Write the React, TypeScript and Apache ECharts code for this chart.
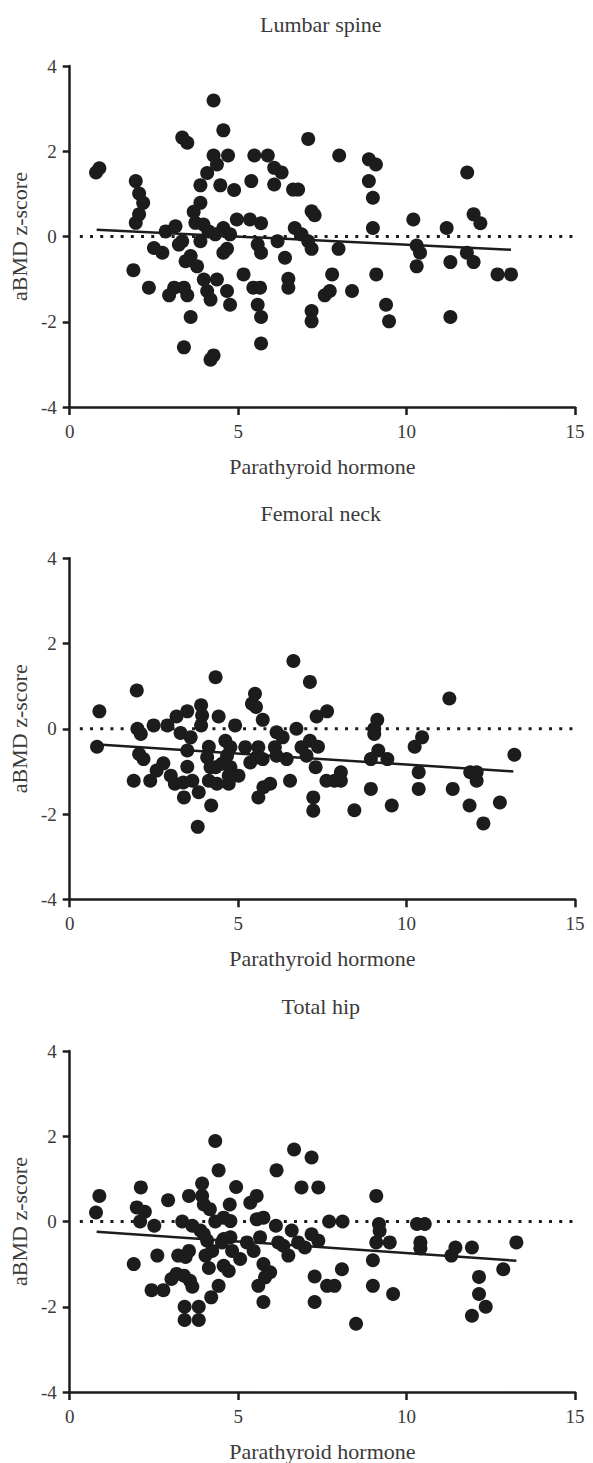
import React, { useEffect, useRef } from "react";
import * as echarts from "echarts";

const panelTitles = ["Lumbar spine", "Femoral neck", "Total hip"];
const xAxisTitle = "Parathyroid hormone";
const yAxisTitle = "aBMD z-score";
const xTicks = { min: 0, max: 15, interval: 5 };
const yTicks = { min: -4, max: 4, interval: 2 };

const lumbarPoints: number[][] = [
  [0.78, 1.5], [0.88, 1.6], [1.96, 1.3], [2.06, 1.01], [2.18, 0.79], [2.06, 0.52], [1.96, 0.32],
  [3.34, 2.32], [3.49, 2.2], [4.27, 3.19], [4.56, 2.49], [4.27, 1.9], [4.37, 1.69], [4.7, 1.9],
  [4.08, 1.49], [3.88, 1.2], [4.47, 1.2], [4.88, 1.09], [3.88, 0.79], [3.68, 0.58], [5.39, 1.3],
  [5.48, 1.9], [5.88, 1.9], [6.07, 1.61], [6.29, 1.5], [6.07, 1.22], [6.63, 1.1], [6.78, 1.1],
  [4.96, 0.4], [5.35, 0.4], [5.68, 0.31], [3.73, 0.32], [3.97, 0.28], [3.14, 0.24], [2.85, 0.12],
  [4.56, 0.2], [6.68, 0.2], [4.12, 0.12],
  [7.08, 2.29], [8.0, 1.9], [8.88, 1.81], [9.09, 1.69], [8.88, 1.3], [9.0, 0.91], [9.0, 0.2],
  [7.18, 0.59], [7.27, 0.5], [10.2, 0.4], [11.19, 0.2], [11.8, 1.5], [11.99, 0.52], [12.19, 0.31],
  [6.88, 0.05], [7.08, -0.11], [7.18, -0.29], [6.39, -0.5], [6.49, -0.99], [6.49, -1.2], [7.98, -0.29],
  [7.79, -0.89], [7.57, -1.38], [7.72, -1.28], [8.38, -1.28], [7.18, -1.75], [7.18, -1.99], [9.1, -0.89],
  [9.39, -1.6], [9.48, -1.99], [10.3, -0.21], [10.4, -0.38], [10.3, -0.7], [11.3, -0.6], [11.3, -1.89],
  [11.79, -0.38], [11.99, -0.6], [12.7, -0.89], [13.1, -0.89],
  [1.89, -0.79], [2.35, -1.2], [2.5, -0.27], [2.75, -0.38], [3.34, -0.11], [3.24, -0.19], [2.95, -1.38],
  [3.1, -1.2], [3.39, -1.2], [3.49, -1.38], [3.59, -0.46], [3.44, -0.58], [3.78, -0.7], [3.59, -1.89],
  [3.39, -2.6], [4.18, -2.89], [4.27, -2.79], [3.98, -1.01], [4.08, -1.28], [4.18, -1.48], [4.37, -1.01],
  [3.88, -0.11], [4.32, 0.05], [4.76, 0.05], [4.56, -0.38], [4.67, -0.29], [4.67, -1.28], [4.76, -1.6],
  [5.16, -0.89], [5.45, -1.2], [5.65, -1.2], [5.58, -1.6], [5.68, -1.89], [5.68, -2.51], [5.58, -0.19],
  [5.68, -0.38], [6.17, -0.11],
];

const femoralPoints: number[][] = [
  [0.88, 0.41], [0.81, -0.42], [1.99, 0.9], [2.01, 0.0], [2.11, -0.12], [2.06, -0.59], [2.19, -0.71],
  [1.9, -1.22], [2.49, 0.08], [2.9, 0.08], [3.17, 0.29], [3.49, 0.41], [3.29, -0.1], [3.59, -0.2],
  [2.78, -0.81], [2.58, -0.98], [2.39, -1.22], [3.0, -1.1], [3.12, -1.29], [3.37, -1.26], [3.64, -1.22],
  [3.49, -0.89], [3.49, -0.51], [3.39, -1.61], [3.83, -1.49], [3.8, -2.3], [4.2, -1.8], [3.9, 0.55],
  [3.93, 0.31], [3.9, 0.08], [4.33, 1.21], [4.42, 0.29], [4.91, 0.08], [4.13, -0.42], [4.08, -0.67],
  [4.18, -0.9], [4.13, -1.22], [4.37, -1.29], [4.62, -0.28], [4.77, -0.43], [4.67, -0.63], [4.52, -0.82],
  [4.77, -0.9], [4.72, -1.1], [5.01, -1.1], [4.72, -1.29], [4.33, -0.9], [5.21, -0.43], [5.36, -0.79],
  [5.5, 0.82], [5.41, 0.59], [5.53, 0.51], [5.73, 0.21], [5.6, -0.43], [5.55, -0.67], [5.73, -0.71],
  [5.95, -1.29], [5.75, -1.37], [5.6, -1.61], [6.14, -0.08], [6.32, -0.2], [6.09, -0.43], [6.14, -0.63],
  [6.44, -0.71], [6.64, 1.59], [6.73, 0.0], [6.54, -1.22], [6.88, -0.43], [7.13, -0.28], [7.37, -0.42],
  [7.03, -0.63], [7.13, 1.1], [7.33, 0.29], [7.3, -0.9], [7.23, -1.61], [7.23, -1.92], [7.64, 0.41],
  [7.62, -1.22],
  [7.86, -1.22], [8.05, -1.02], [8.05, -1.22], [8.45, -1.91], [8.94, -1.41], [8.94, -0.71], [9.16, -0.51],
  [9.43, -0.71], [9.13, 0.21], [9.04, 0.0], [9.04, -0.12], [9.56, -1.8], [10.46, -0.2], [10.24, -0.42],
  [10.36, -1.02], [10.36, -1.41], [11.27, 0.71], [11.37, -1.41], [11.89, -1.02], [12.08, -1.02],
  [12.08, -1.22], [11.87, -1.8], [12.77, -1.73], [12.28, -2.22], [13.2, -0.61],
];

const hipPoints: number[][] = [
  [0.88, 0.6], [0.78, 0.21], [1.9, -1.0], [2.11, 0.8], [1.99, 0.33], [2.23, 0.23], [2.09, 0.0],
  [2.51, -0.1], [2.6, -0.8], [2.43, -1.61], [2.78, -1.61], [2.92, 0.5], [3.02, -1.35], [3.17, -1.23],
  [3.39, -1.27], [3.57, -1.39], [3.64, -1.53], [3.22, -0.8], [3.44, -0.83], [3.54, -0.69], [3.34, 0.0],
  [3.64, -0.1], [3.88, -0.21], [3.41, -2.0], [3.83, -2.0], [3.41, -2.31], [3.83, -2.31], [3.54, 0.6],
  [3.93, 0.89], [3.93, 0.6], [3.98, 0.4], [4.16, 0.29], [3.98, -0.3], [4.08, -0.45], [4.23, -0.69],
  [4.03, -0.8], [4.13, -1.09], [4.42, -1.51], [4.2, -1.78], [4.32, 1.89], [4.42, 1.2], [4.32, 0.0],
  [4.57, 0.09], [4.77, 0.01], [4.75, 0.4], [4.94, 0.81], [4.57, -0.41], [4.77, -0.37], [4.52, -0.49],
  [4.82, -0.69], [5.06, -0.88], [4.57, -1.04], [4.72, -1.16], [5.26, -0.49], [5.46, -0.69], [5.36, 0.44],
  [5.55, 0.6], [5.55, 0.05], [5.75, 0.09], [5.65, -0.37], [5.75, -1.0], [5.95, -1.19], [5.8, -1.31],
  [5.6, -1.51], [5.75, -1.89], [6.14, 1.2], [6.12, -0.1], [6.19, -0.49], [6.34, -0.57], [6.49, -0.8],
  [6.59, -0.21], [6.66, 1.69], [6.88, 0.8], [7.18, 1.5], [7.38, 0.8], [6.78, -0.49], [6.98, -0.61],
  [7.18, -0.3], [7.38, -0.45], [7.27, -1.29], [7.27, -1.89], [7.64, -1.51], [7.7, 0.0],
  [8.1, 0.0], [8.08, -1.12], [7.86, -1.51], [8.5, -2.4], [9.1, 0.6], [9.18, -0.06], [9.2, -0.22],
  [9.1, -0.49], [9.5, -0.49], [9.0, -0.91], [9.0, -1.51], [9.6, -1.7], [10.31, -0.06], [10.54, -0.06],
  [10.41, -0.49], [10.41, -0.63], [11.45, -0.61], [11.33, -0.8], [11.94, -0.61], [12.15, -1.3],
  [12.15, -1.7], [12.35, -2.0], [11.94, -2.21], [12.87, -1.12], [13.26, -0.49],
];

const lumbarFit: number[][] = [[0.8, 0.16], [13.1, -0.31]];
const femoralFit: number[][] = [[0.85, -0.37], [13.17, -1.0]];
const hipFit: number[][] = [[0.8, -0.24], [13.26, -0.92]];
const zeroLine: number[][] = [[0.3, 0], [15, 0]];

const FONT = "'Liberation Serif', 'Times New Roman', serif";
const INK = "#1c1c1c";
const TEXT = "#3a3a3a";

const gridBoxes = [
  { left: 66.7, top: 66, width: 508.3, height: 341 },
  { left: 66.5, top: 558.3, width: 508.5, height: 341 },
  { left: 66.5, top: 1051, width: 508.5, height: 342 },
];
const titleY = [24, 513, 1006];

export default function App() {
  const ref = useRef<HTMLDivElement>(null);
  useEffect(() => {
    if (!ref.current) return;
    const chart = echarts.init(ref.current, undefined, { renderer: "svg" });
    const pointSets = [lumbarPoints, femoralPoints, hipPoints];
    const fits = [lumbarFit, femoralFit, hipFit];

    const xAxis = gridBoxes.map((_, i) => ({
      type: "value",
      gridIndex: i,
      min: xTicks.min,
      max: xTicks.max,
      interval: xTicks.interval,
      name: xAxisTitle,
      nameLocation: "middle",
      nameGap: 48,
      nameTextStyle: { fontFamily: FONT, fontSize: 22, color: TEXT },
      axisLine: { show: true, onZero: false, lineStyle: { color: INK, width: 2.5 } },
      axisTick: { show: true, length: 8, lineStyle: { color: INK, width: 2.5 } },
      axisLabel: { fontFamily: FONT, fontSize: 19, color: TEXT, margin: 15 },
      splitLine: { show: false },
    }));
    const yAxis = gridBoxes.map((_, i) => ({
      type: "value",
      gridIndex: i,
      min: yTicks.min,
      max: yTicks.max,
      interval: yTicks.interval,
      name: yAxisTitle,
      nameLocation: "middle",
      nameGap: 36,
      nameTextStyle: { fontFamily: FONT, fontSize: 22, color: TEXT },
      axisLine: { show: true, onZero: false, lineStyle: { color: INK, width: 2.5 } },
      axisTick: { show: true, length: 7, lineStyle: { color: INK, width: 2.5 } },
      axisLabel: { fontFamily: FONT, fontSize: 19, color: TEXT, margin: 13 },
      splitLine: { show: false },
    }));

    const series: any[] = [];
    pointSets.forEach((pts, i) => {
      series.push({
        type: "line",
        xAxisIndex: i,
        yAxisIndex: i,
        data: zeroLine,
        symbol: "none",
        silent: true,
        z: 1,
        lineStyle: { color: INK, width: 3, type: [3, 7.2] },
      });
      series.push({
        type: "scatter",
        xAxisIndex: i,
        yAxisIndex: i,
        data: pts,
        symbolSize: 14,
        silent: true,
        z: 2,
        itemStyle: { color: INK, opacity: 1 },
      });
      series.push({
        type: "line",
        xAxisIndex: i,
        yAxisIndex: i,
        data: fits[i],
        symbol: "none",
        silent: true,
        z: 3,
        lineStyle: { color: INK, width: 2.5 },
      });
    });

    const graphic = panelTitles.map((t, i) => ({
      type: "text",
      x: gridBoxes[i].left + gridBoxes[i].width / 2,
      y: titleY[i],
      style: {
        text: t,
        fontFamily: FONT,
        fontSize: 22,
        fill: TEXT,
        textAlign: "center",
        textVerticalAlign: "middle",
      },
    }));

    chart.setOption({
      animation: false,
      backgroundColor: "#ffffff",
      grid: gridBoxes.map((g) => ({ ...g, containLabel: false })),
      xAxis,
      yAxis,
      series,
      graphic,
    });
    return () => chart.dispose();
  }, []);
  return (
    <div
      ref={ref}
      style={{ position: "absolute", left: 0, top: 0, width: 593, height: 1463 }}
    />
  );
}
